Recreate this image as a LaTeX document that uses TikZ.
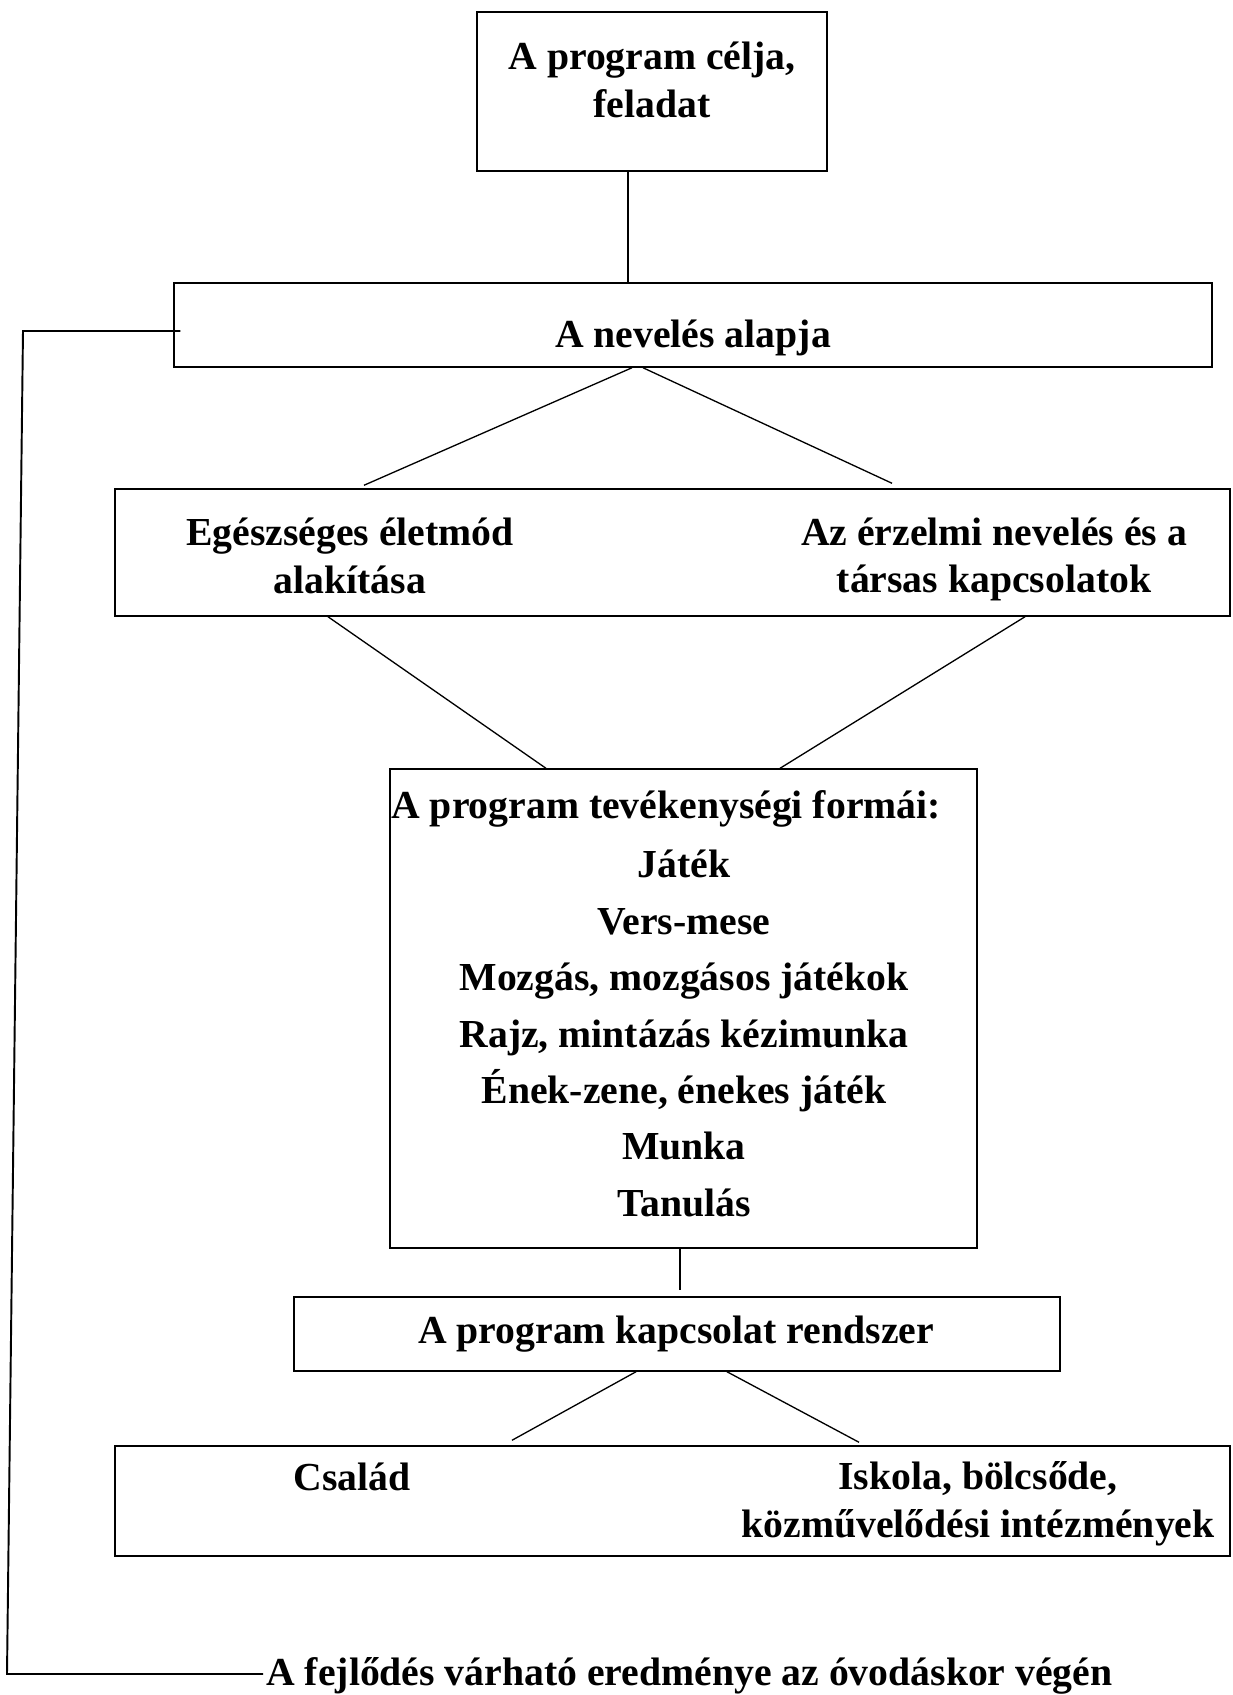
\documentclass[tikz,border=0pt]{standalone}
\usepackage{fontspec}
\setmainfont{Liberation Serif}
\usetikzlibrary{calc}

\tikzset{
    box/.style={draw, rectangle, line width=0.85pt, inner sep=0pt},
    txt/.style={font=\bfseries\fontsize{22.6}{27.2}\selectfont, align=center, inner sep=0pt},
    con/.style={line width=0.75pt},
}

\begin{document}
\begin{tikzpicture}[x=0.02cm, y=-0.02cm]
    \useasboundingbox (0,0) rectangle (1232,1695);

    % boxes
    \node[box, minimum width=7cm, minimum height=3.18cm] (goal) at (652,91.5) {};
    \node[box, minimum width=20.76cm, minimum height=1.68cm] (nev) at (693,325) {};
    \node[box, minimum width=22.3cm, minimum height=2.54cm] (health) at (672.5,552.5) {};
    \node[box, minimum width=11.74cm, minimum height=9.58cm] (forms) at (683.5,1008.5) {};
    \node[box, minimum width=15.32cm, minimum height=1.48cm] (link) at (677,1334) {};
    \node[box, minimum width=22.3cm, minimum height=2.2cm] (family) at (672.5,1501) {};

    % texts
    \node[txt] (goaltxt) at (652,80) {A program célja,\\feladat};
    \node[txt, anchor=base] (nevtxt) at (693,347) {A nevelés alapja};
    \node[txt] (healthL) at (350,555.5) {Egészséges életmód\\alakítása};
    \node[txt] (healthR) at (994,559.5) {Az érzelmi nevelés és a\\társas kapcsolatok};
    \node[txt, anchor=base west] (formstitle) at (391,818) {A program tevékenységi formái:};
    \node[txt, font=\bfseries\fontsize{22.6}{32.1}\selectfont] (formslist) at (684,1033.5)
        {Játék\\Vers-mese\\Mozgás, mozgásos játékok\\Rajz, mintázás kézimunka\\Ének-zene, énekes játék\\Munka\\Tanulás};
    \node[txt, anchor=base] (linktxt) at (676,1343) {A program kapcsolat rendszer};
    \node[txt, anchor=base] (familyL) at (352,1490) {Család};
    \node[txt] (familyR) at (978,1504) {Iskola, bölcsőde,\\közművelődési intézmények};
    \node[txt, anchor=base west] (result) at (266,1685) {A fejlődés várható eredménye az óvodáskor végén};

    % connectors
    \draw[con] ($(goal.south)+(-24,0)$) -- ($(nev.north)+(-65,0)$);
    \draw[con] ($(nev.south)+(-61,0)$) -- ($(health.north)+(-308.5,-3)$);
    \draw[con] ($(nev.south)+(-50,0)$) -- ($(health.north)+(219.5,-5)$);
    \draw[con] ($(health.south)+(-344.5,0)$) -- ($(forms.north)+(-137.5,0)$);
    \draw[con] ($(health.south)+(352.5,0)$) -- ($(forms.north)+(96.5,0)$);
    \draw[con] ($(forms.south)+(-3.5,0)$) -- ($(link.north)+(3,-6)$);
    \draw[con] ($(link.south)+(-41,0)$) -- ($(family.north)+(-160.5,-5)$);
    \draw[con] ($(link.south)+(50,0)$) -- ($(family.north)+(186.5,-3)$);

    % feedback line
    \coordinate (fbtop) at (23,331);
    \coordinate (fbbot) at (7,1674);
    \draw[line width=1.1pt] ($(nev.west)+(7,6)$) -- (fbtop) -- (fbbot) -- ($(result.base west)+(-3,-11)$);
\end{tikzpicture}
\end{document}
